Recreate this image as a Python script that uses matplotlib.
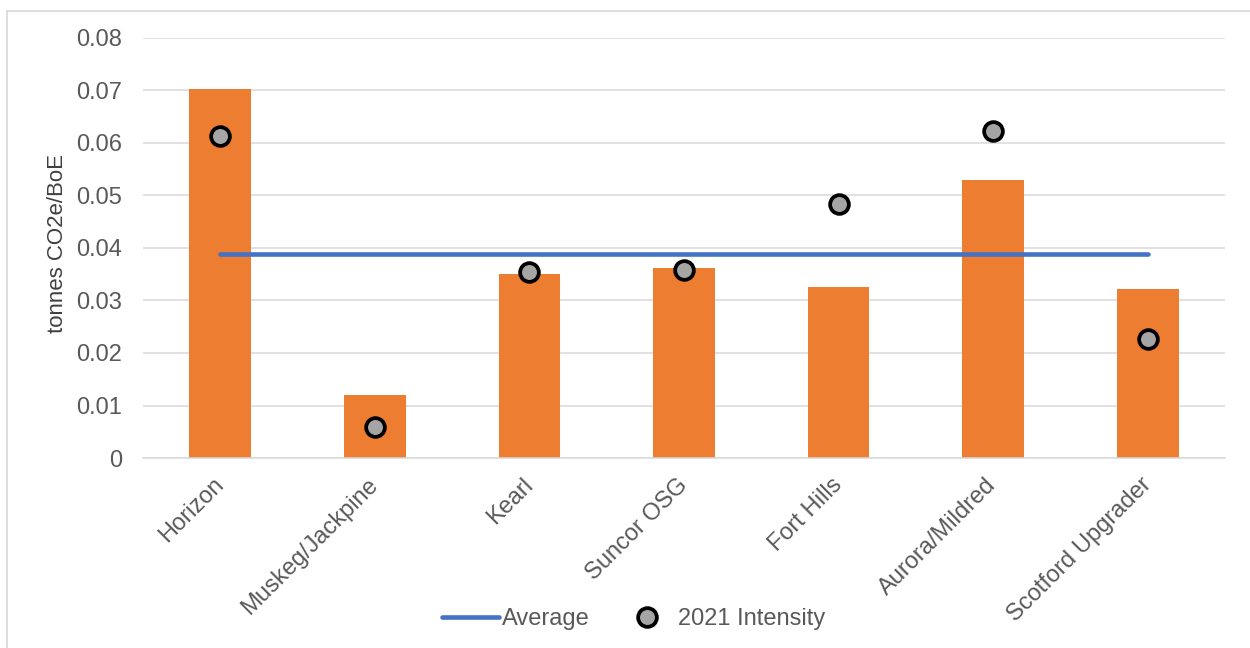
import matplotlib
matplotlib.use("Agg")
import matplotlib.pyplot as plt
from matplotlib.lines import Line2D
import numpy as np

plt.rcParams['font.family'] = ['Liberation Sans', 'DejaVu Sans']

categories = ["Horizon", "Muskeg/Jackpine", "Kearl", "Suncor OSG", "Fort Hills",
              "Aurora/Mildred", "Scotford Upgrader"]
bar_values = [0.0703, 0.0120, 0.0350, 0.0362, 0.0326, 0.0530, 0.0322]
intensity_2021 = [0.0613, 0.0059, 0.0354, 0.0358, 0.0484, 0.0623, 0.0227]
average = [0.0389] * 7
yticks = [0, 0.01, 0.02, 0.03, 0.04, 0.05, 0.06, 0.07, 0.08]
ytick_labels = ["0", "0.01", "0.02", "0.03", "0.04", "0.05", "0.06", "0.07", "0.08"]

fig = plt.figure(figsize=(12.5, 6.48), dpi=100)
ax = fig.add_axes([0.1144, 0.2932, 0.8656, 0.6482])

x = np.arange(len(categories))
ax.bar(x, bar_values, width=0.4, color="#ed7d31", zorder=2)
ax.plot(x, average, color="#4472c4", lw=3.3, solid_capstyle="round", zorder=3)
ax.plot(x, intensity_2021, ls="none", marker="o", markersize=13.5,
        markerfacecolor="#a5a5a5", markeredgecolor="black", markeredgewidth=2.7, zorder=4)

ax.set_xlim(-0.5, len(categories) - 0.5)
ax.set_ylim(0, 0.08)
ax.set_yticks(yticks)
ax.set_yticklabels(ytick_labels)
ax.grid(axis="y", color="#d9d9d9", lw=1.1, zorder=0)
ax.set_axisbelow(True)
for s in ["top", "right", "left"]:
    ax.spines[s].set_visible(False)
ax.spines["bottom"].set_color("#d9d9d9")
ax.spines["bottom"].set_linewidth(1.1)
ax.tick_params(axis="both", length=0, colors="#595959", labelsize=17)
ax.tick_params(axis="y", pad=15)
ax.tick_params(axis="x", pad=17)
ax.set_xticks(x)
ax.set_xticklabels(categories, rotation=45, ha="right", va="center", rotation_mode="anchor")

ax.set_ylabel("tonnes CO2e/BoE", fontsize=16, color="#404040")
ax.yaxis.set_label_coords(-0.069, 0.51)

handles = [Line2D([], [], color="#4472c4", lw=3.3, solid_capstyle="round"),
           Line2D([], [], ls="none", marker="o", markersize=13.5, markerfacecolor="#a5a5a5",
                  markeredgecolor="black", markeredgewidth=2.7)]
leg = fig.legend(handles, ["Average", "2021 Intensity"], loc="center",
                 bbox_to_anchor=(0.507, 0.045), ncol=2, frameon=False, fontsize=17,
                 handlelength=2.4, handletextpad=0.15, columnspacing=1.2)
for t in leg.get_texts():
    t.set_color("#595959")

# figure border
fig.add_artist(Line2D([7/1250, 7/1250], [0, 1 - 11/648], transform=fig.transFigure,
                      color="#d9d9d9", lw=1.2))
fig.add_artist(Line2D([7/1250, 1], [1 - 11/648, 1 - 11/648], transform=fig.transFigure,
                      color="#d9d9d9", lw=1.2))

fig.savefig("out.png", dpi=100)
